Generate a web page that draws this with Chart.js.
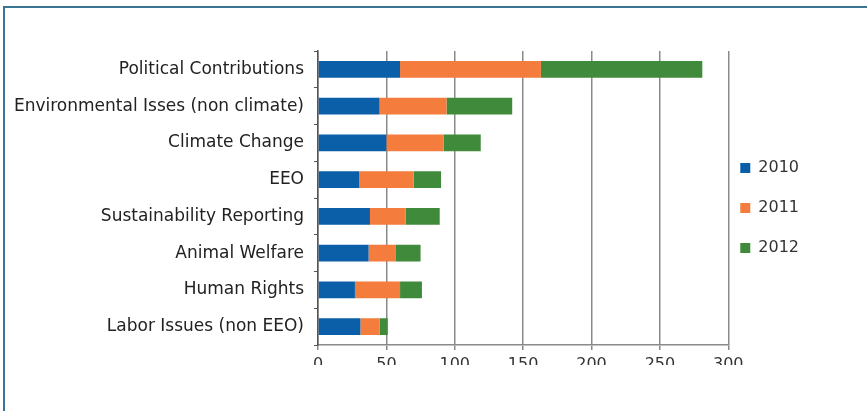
<!DOCTYPE html>
<html>
<head>
<meta charset="utf-8">
<script src="https://cdn.jsdelivr.net/npm/chart.js"></script>
<style>
    html, body { margin: 0; padding: 0; background: #fff; overflow: hidden; }
    #wrap { position: relative; width: 867px; height: 411px; }
    #frame {
        position: absolute; left: 3px; top: 6px; width: 900px; height: 500px;
        border-top: 2px solid #3c7594; border-left: 2px solid #3c7594;
    }
    #chart { position: absolute; left: 0; top: 0; }
</style>
</head>
<body>
<div id="wrap">
    <div id="frame"></div>
    <canvas id="chart" width="867" height="411"></canvas>
</div>
<script>
// 股东提案数量（按议题，逐年堆叠）
var categories = [
    'Political Contributions',
    'Environmental Isses (non climate)',
    'Climate Change',
    'EEO',
    'Sustainability Reporting',
    'Animal Welfare',
    'Human Rights',
    'Labor Issues (non EEO)'
];
var years = ['2010', '2011', '2012'];
var values2010 = [60, 45, 50, 30, 38, 37, 27, 31];
var values2011 = [103, 49, 42, 40, 26, 20, 33, 14];
var values2012 = [118, 48, 27, 20, 25, 18, 16, 6];
var xTicks = [0, 50, 100, 150, 200, 250, 300];

var colors = ['#0b5ea8', '#f47c3c', '#3f8a3b'];
var seriesValues = [values2010, values2011, values2012];

var datasets = [];
for (var i = 0; i < years.length; i++) {
    datasets.push({
        label: years[i],
        data: seriesValues[i],
        backgroundColor: colors[i],
        borderWidth: 0,
        barPercentage: 0.46,
        categoryPercentage: 1
    });
}

var fontFamily = "'DejaVu Sans', 'Liberation Sans', sans-serif";

// 图例靠近绘图区一点（图例项间距大，但左侧留白要小）
var legendShift = {
    id: 'legendShift',
    afterLayout: function(chart) {
        var legend = chart.legend;
        if (legend) {
            legend.left -= 12;
            legend.right -= 12;
        }
    }
};

new Chart(document.getElementById('chart'), {
    type: 'bar',
    data: {
        labels: categories,
        datasets: datasets
    },
    plugins: [legendShift],
    options: {
        indexAxis: 'y',
        responsive: false,
        animation: false,
        layout: {
            padding: { left: 0, right: 46, top: 51, bottom: 46 }
        },
        plugins: {
            legend: {
                position: 'right',
                labels: {
                    boxWidth: 10,
                    boxHeight: 10,
                    padding: 24,
                    color: '#333',
                    font: { family: fontFamily, size: 16 }
                }
            },
            tooltip: { enabled: false }
        },
        scales: {
            x: {
                stacked: true,
                min: 0,
                max: 300,
                afterBuildTicks: function(scale) {
                    scale.ticks = xTicks.map(function(v) { return { value: v }; });
                },
                afterFit: function(scale) {
                    scale.height = 20;
                },
                grid: {
                    color: '#8a8a8a',
                    lineWidth: 1.5,
                    tickLength: 5
                },
                border: { color: '#8a8a8a', width: 1.5 },
                ticks: {
                    color: '#333',
                    padding: 5,
                    font: { family: fontFamily, size: 16 }
                }
            },
            y: {
                stacked: true,
                afterFit: function(scale) {
                    scale.width = 318;
                },
                grid: {
                    drawOnChartArea: false,
                    color: '#555',
                    tickLength: 4
                },
                border: { color: '#555', width: 1.5 },
                ticks: {
                    color: '#222',
                    padding: 10,
                    font: { family: fontFamily, size: 17 }
                }
            }
        }
    }
});
</script>
</body>
</html>
